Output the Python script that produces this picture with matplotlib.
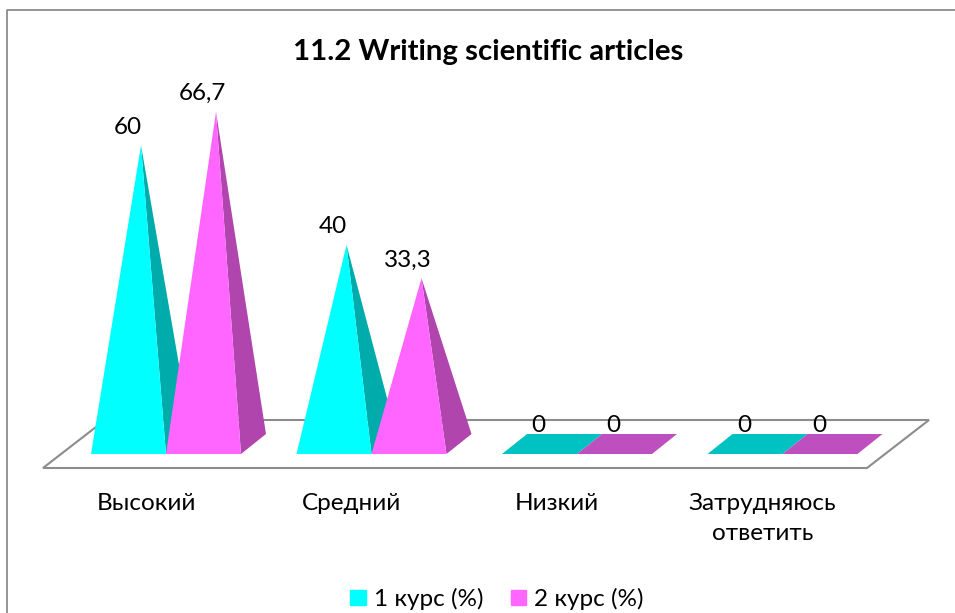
import matplotlib
matplotlib.use('Agg')
import matplotlib.pyplot as plt
from matplotlib.patches import Patch

plt.rcParams['font.family'] = ['Lato', 'Noto Sans', 'DejaVu Sans']

title = '11.2 Writing scientific articles'
categories = ['Высокий', 'Средний', 'Низкий', 'Затрудняюсь\nответить']
series_names = ['1 курс (%)', '2 курс (%)']
course1 = [60, 40, 0, 0]
course2 = [66.7, 33.3, 0, 0]

# front, side and flat colours per series
colors = ['#00FFFF', '#FF66FF']
side_colors = ['#00ABAB', '#B045AE']
flat_colors = ['#00C2C2', '#BE4FBE']

W, H = 955, 613
# 1 category = 205.5 px, 1 percent = 4.98 px, zero line at px (166, 454)
px_x = 205.5
px_y = 4.98
w = 75 / px_x
dx = 25 / px_x
dy = 20 / px_y

fig = plt.figure(figsize=(W / 100, H / 100), dpi=100)
ax = fig.add_axes([0, 0, 1, 1])
ax.set_xlim(-166 / px_x, (W - 166) / px_x)
ax.set_ylim(-(H - 454) / px_y, 454 / px_y)
ax.axis('off')

# chart frame, only top and left are visible
ax.plot([(7 - 166) / px_x, (7 - 166) / px_x, (W - 166) / px_x],
        [-(H - 454) / px_y, (454 - 10) / px_y, (454 - 10) / px_y],
        color='#8C8C8C', lw=1.3, clip_on=False)

# floor
floor_x = [(43 - 166) / px_x, (867 - 166) / px_x, (929 - 166) / px_x, (105 - 166) / px_x]
floor_y = [-14 / px_y, -14 / px_y, 34 / px_y, 34 / px_y]
ax.fill(floor_x, floor_y, facecolor='white', edgecolor='#8C8C8C', lw=1.5, zorder=1)

for s, values in enumerate([course1, course2]):
    for i, v in enumerate(values):
        x0 = i - w + s * w
        x1 = x0 + w
        cx = (x0 + x1) / 2
        top = v + dy / 2
        if v == 0:
            ax.fill([x0, x1, x1 + dx, x0 + dx], [0, 0, dy, dy], color=flat_colors[s], lw=0, zorder=2 + s)
        else:
            ax.fill([x1, x1 + dx, cx + dx / 2], [0, dy, top], color=side_colors[s], lw=0, zorder=2 + s)
            ax.fill([x0, x1, cx + dx / 2], [0, 0, top], color=colors[s], lw=0, zorder=2 + s)
        ax.text(cx - 1 / px_x, top + 18 / px_y, str(v).replace('.', ','), ha='center', va='center',
                fontsize=17.5, color='black', zorder=5)

for i, c in enumerate(categories):
    ax.text(i - 20 / px_x, -39 / px_y, c, ha='center', va='top', fontsize=17.5,
            linespacing=1.55, color='black')

ax.text((488 - 166) / px_x, (454 - 52) / px_y, title, ha='center', va='center',
        fontsize=21.2, fontweight='bold', color='black')

handles = [Patch(color=colors[0], label=series_names[0]), Patch(color=colors[1], label=series_names[1])]
fig.legend(handles=handles, ncols=2, frameon=False, fontsize=17.5, loc='center',
           bbox_to_anchor=(497 / W, 1 - 599 / H), handlelength=0.62, handleheight=0.62,
           handletextpad=0.33, columnspacing=1.15)

fig.savefig('out.png', dpi=100)
